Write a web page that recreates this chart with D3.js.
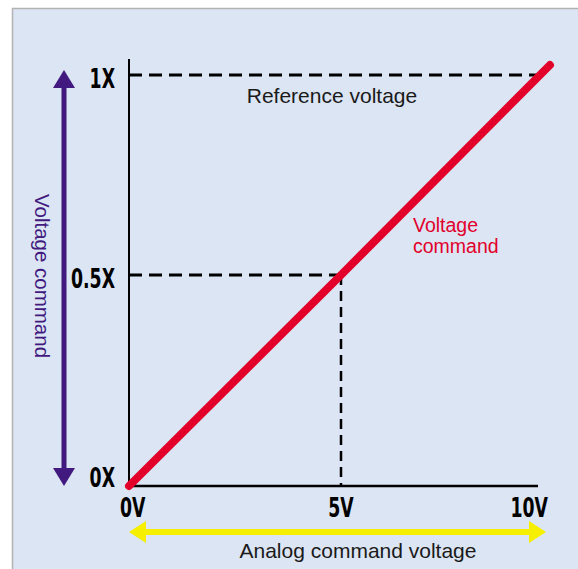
<!DOCTYPE html>
<html>
<head>
<meta charset="utf-8">
<script src="https://cdn.jsdelivr.net/npm/d3@7"></script>
<style>
  body { margin: 0; background: #fff; }
  svg { display: block; }
</style>
</head>
<body>
<svg id="chart" width="578" height="569"></svg>
<script>
// chart values
const xTicks = [0, 5, 10];
const xTickLabels = ["0V", "5V", "10V"];
const yTicks = [0, 0.5, 1];
const yTickLabels = ["0X", "0.5X", "1X"];
const commandX = [0, 5, 10.25];
const commandY = [0, 0.5, 1.025];

const svg = d3.select("#chart");

// panel
svg.append("rect")
    .attr("x", 12.5).attr("y", 8.5)
    .attr("width", 570).attr("height", 570)
    .attr("fill", "#dce5f3")
    .attr("stroke", "#b3b3b3")
    .attr("stroke-width", 1.5);

const x = d3.scaleLinear().domain([0, 5, 10]).range([129, 341, 540]);
const y = d3.scaleLinear().domain([0, 0.5, 1]).range([486, 275, 75]);

const boldFont = "'DejaVu Sans Condensed', 'DejaVu Sans', sans-serif";
const textFont = "'Liberation Sans', Arial, Helvetica, sans-serif";
const squeeze = 0.74;

// dashed guides
svg.append("line")
    .attr("x1", x(0)).attr("x2", x(10))
    .attr("y1", y(1)).attr("y2", y(1))
    .attr("stroke", "#000").attr("stroke-width", 3)
    .attr("stroke-dasharray", "13,7");

svg.append("line")
    .attr("x1", x(0)).attr("x2", x(5))
    .attr("y1", y(0.5)).attr("y2", y(0.5))
    .attr("stroke", "#000").attr("stroke-width", 3)
    .attr("stroke-dasharray", "13,7");

svg.append("line")
    .attr("x1", x(5)).attr("x2", x(5))
    .attr("y1", y(0.5)).attr("y2", y(0))
    .attr("stroke", "#000").attr("stroke-width", 2.5)
    .attr("stroke-dasharray", "10,6");

// axes
svg.append("line")
    .attr("x1", x(0)).attr("x2", x(0))
    .attr("y1", y(0)).attr("y2", y(1.04))
    .attr("stroke", "#000").attr("stroke-width", 2);

svg.append("line")
    .attr("x1", x(0) - 1).attr("x2", x(9.95))
    .attr("y1", y(0)).attr("y2", y(0))
    .attr("stroke", "#000").attr("stroke-width", 2.5);

// command line
const line = d3.line()
    .x((d, i) => x(commandX[i]))
    .y(d => y(d));

svg.append("path")
    .datum(commandY)
    .attr("d", line)
    .attr("fill", "none")
    .attr("stroke", "#e2002b")
    .attr("stroke-width", 8)
    .attr("stroke-linecap", "round")
    .attr("stroke-linejoin", "round");

// tick labels (condensed bold)
svg.selectAll(".ylab")
    .data(yTicks)
    .join("text")
    .attr("class", "ylab")
    .attr("transform", d => `translate(115,${y(d) + (d === 0 ? 1 : 13)}) scale(${squeeze},1)`)
    .attr("text-anchor", "end")
    .attr("font-family", boldFont)
    .attr("font-weight", "bold")
    .attr("font-size", 26)
    .attr("fill", "#000")
    .text((d, i) => yTickLabels[i]);

svg.selectAll(".xlab")
    .data(xTicks)
    .join("text")
    .attr("class", "xlab")
    .attr("transform", (d, i) => {
        const px = i === 0 ? x(d) - 9 : i === xTicks.length - 1 ? x(d) + 8 : x(d);
        return `translate(${px},${y(0) + 31}) scale(${squeeze},1)`;
    })
    .attr("text-anchor", (d, i) => i === 0 ? "start" : i === xTicks.length - 1 ? "end" : "middle")
    .attr("font-family", boldFont)
    .attr("font-weight", "bold")
    .attr("font-size", 26)
    .attr("fill", "#000")
    .text((d, i) => xTickLabels[i]);

// purple double arrow (vertical)
const purple = "#41197f";
const ax = 64, arrowTop = y(1) - 5, arrowBot = y(0);
svg.append("line")
    .attr("x1", ax).attr("x2", ax)
    .attr("y1", arrowTop + 16).attr("y2", arrowBot - 16)
    .attr("stroke", purple).attr("stroke-width", 5);
svg.append("path")
    .attr("d", `M${ax},${arrowTop} L${ax - 11},${arrowTop + 18} L${ax + 11},${arrowTop + 18} Z`)
    .attr("fill", purple);
svg.append("path")
    .attr("d", `M${ax},${arrowBot} L${ax - 11},${arrowBot - 18} L${ax + 11},${arrowBot - 18} Z`)
    .attr("fill", purple);

svg.append("text")
    .attr("transform", `translate(35,276) rotate(90)`)
    .attr("text-anchor", "middle")
    .attr("font-family", textFont)
    .attr("font-size", 20.5)
    .attr("fill", purple)
    .text("Voltage command");

// yellow double arrow (horizontal)
const yellow = "#f6ef00";
const ay = 532, arrowLeft = x(0), arrowRight = 546;
svg.append("line")
    .attr("x1", arrowLeft + 14).attr("x2", arrowRight - 14)
    .attr("y1", ay).attr("y2", ay)
    .attr("stroke", yellow).attr("stroke-width", 6);
svg.append("path")
    .attr("d", `M${arrowLeft},${ay} L${arrowLeft + 17},${ay - 11} L${arrowLeft + 17},${ay + 11} Z`)
    .attr("fill", yellow);
svg.append("path")
    .attr("d", `M${arrowRight},${ay} L${arrowRight - 17},${ay - 11} L${arrowRight - 17},${ay + 11} Z`)
    .attr("fill", yellow);

svg.append("text")
    .attr("x", 358).attr("y", 558)
    .attr("text-anchor", "middle")
    .attr("font-family", textFont)
    .attr("font-size", 21)
    .attr("fill", "#1a1a1a")
    .text("Analog command voltage");

// annotations
svg.append("text")
    .attr("x", 332).attr("y", 103)
    .attr("text-anchor", "middle")
    .attr("font-family", textFont)
    .attr("font-size", 21)
    .attr("fill", "#1a1a1a")
    .text("Reference voltage");

const redLabel = svg.append("text")
    .attr("font-family", textFont)
    .attr("font-size", 19.5)
    .attr("fill", "#e2002b");
redLabel.append("tspan").attr("x", 413).attr("y", 232).text("Voltage");
redLabel.append("tspan").attr("x", 413).attr("y", 253).text("command");
</script>
</body>
</html>
